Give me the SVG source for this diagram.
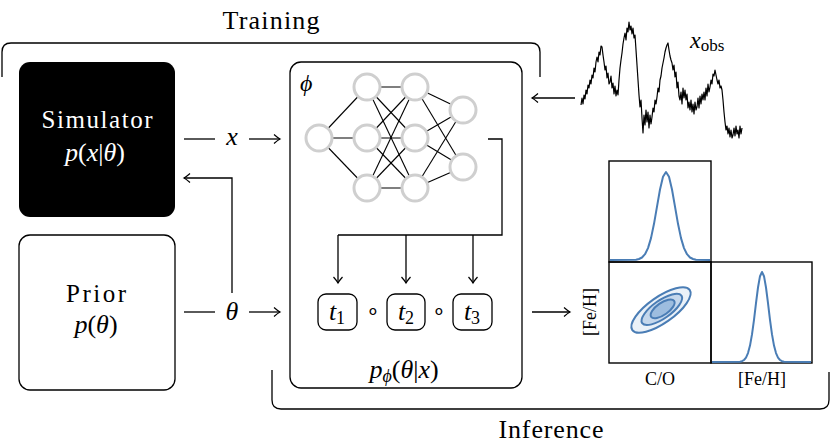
<svg xmlns="http://www.w3.org/2000/svg" width="831" height="447" viewBox="0 0 831 447">
<defs>
<marker id="ah" viewBox="-8 -6 10 12" markerWidth="10" markerHeight="12" refX="0" refY="0" orient="auto" markerUnits="userSpaceOnUse">
<path d="M-6,-4.5 Q-2,-1 0,0 Q-2,1 -6,4.5" fill="none" stroke="#000" stroke-width="1.2"/>
</marker>
</defs>

<g id="training-label"><text font-family="Liberation Serif" x="271" y="29" font-size="26" text-anchor="middle" textLength="97" lengthAdjust="spacing">Training</text></g>
<g id="inference-label"><text font-family="Liberation Serif" x="551" y="438" font-size="26" text-anchor="middle" textLength="105" lengthAdjust="spacing">Inference</text></g>

<g id="simulator">
<rect x="19" y="62" width="156" height="155" rx="11" fill="#000"/>
<text font-family="Liberation Serif" x="97" y="128" font-size="25" text-anchor="middle" fill="#fff" textLength="111" lengthAdjust="spacing">Simulator</text>
<text font-family="Liberation Serif" x="95" y="161" font-size="26" text-anchor="middle" fill="#fff"><tspan font-style="italic">p</tspan>(<tspan font-style="italic">x</tspan>|<tspan font-style="italic">&#952;</tspan>)</text>
</g>

<g id="prior">
<rect x="19" y="235" width="156" height="155" rx="11" fill="#fff" stroke="#000" stroke-width="1.3"/>
<text font-family="Liberation Serif" x="96" y="302" font-size="25" text-anchor="middle" textLength="60" lengthAdjust="spacing">Prior</text>
<text font-family="Liberation Serif" x="96" y="333" font-size="26" text-anchor="middle"><tspan font-style="italic">p</tspan>(<tspan font-style="italic">&#952;</tspan>)</text>
</g>

<g id="flow">
<rect x="290" y="62" width="232" height="326" rx="11" fill="#fff" stroke="#000" stroke-width="1.3"/>
<text font-family="Liberation Serif" x="300" y="91" font-size="24" font-style="italic">&#981;</text>
<g id="nn-edges" stroke="#000" stroke-width="1.1">
<line x1="319" y1="138" x2="367" y2="87"/>
<line x1="319" y1="138" x2="367" y2="138"/>
<line x1="319" y1="138" x2="367" y2="188"/>
<line x1="367" y1="87" x2="415" y2="87"/>
<line x1="367" y1="87" x2="415" y2="138"/>
<line x1="367" y1="87" x2="415" y2="188"/>
<line x1="367" y1="138" x2="415" y2="87"/>
<line x1="367" y1="138" x2="415" y2="138"/>
<line x1="367" y1="138" x2="415" y2="188"/>
<line x1="367" y1="188" x2="415" y2="87"/>
<line x1="367" y1="188" x2="415" y2="138"/>
<line x1="367" y1="188" x2="415" y2="188"/>
<line x1="415" y1="87" x2="463" y2="110"/>
<line x1="415" y1="87" x2="463" y2="167"/>
<line x1="415" y1="138" x2="463" y2="110"/>
<line x1="415" y1="138" x2="463" y2="167"/>
<line x1="415" y1="188" x2="463" y2="110"/>
<line x1="415" y1="188" x2="463" y2="167"/>
</g>
<g id="nn-nodes" fill="#fff" stroke="#cfcfcf" stroke-width="3">
<circle cx="319" cy="138" r="13"/>
<circle cx="367" cy="87" r="13"/>
<circle cx="367" cy="138" r="13"/>
<circle cx="367" cy="188" r="13"/>
<circle cx="415" cy="87" r="13"/>
<circle cx="415" cy="138" r="13"/>
<circle cx="415" cy="188" r="13"/>
<circle cx="463" cy="110" r="13"/>
<circle cx="463" cy="167" r="13"/>
</g>
<g id="t1"><rect x="318" y="294" width="39" height="36" rx="8" fill="#fff" stroke="#000" stroke-width="1.3"/><text font-family="Liberation Serif" x="337" y="320" font-size="26" text-anchor="middle"><tspan font-style="italic">t</tspan><tspan font-size="18" dy="4">1</tspan></text></g>
<text font-family="Liberation Serif" x="373" y="318" font-size="22" text-anchor="middle">&#8728;</text>
<g id="t2"><rect x="387" y="294" width="38" height="36" rx="8" fill="#fff" stroke="#000" stroke-width="1.3"/><text font-family="Liberation Serif" x="406" y="320" font-size="26" text-anchor="middle"><tspan font-style="italic">t</tspan><tspan font-size="18" dy="4">2</tspan></text></g>
<text font-family="Liberation Serif" x="439" y="318" font-size="22" text-anchor="middle">&#8728;</text>
<g id="t3"><rect x="453" y="294" width="39" height="36" rx="8" fill="#fff" stroke="#000" stroke-width="1.3"/><text font-family="Liberation Serif" x="472" y="320" font-size="26" text-anchor="middle"><tspan font-style="italic">t</tspan><tspan font-size="18" dy="4">3</tspan></text></g>
<text font-family="Liberation Serif" x="404" y="378" font-size="26" text-anchor="middle"><tspan font-style="italic">p</tspan><tspan font-style="italic" font-size="18" dy="4">&#981;</tspan><tspan dy="-4">(</tspan><tspan font-style="italic">&#952;</tspan>|<tspan font-style="italic">x</tspan>)</text>
</g>

<g id="observation">
<polyline fill="none" stroke="#000" stroke-width="1.2" stroke-linejoin="round" points="581,105 582,98 583,104 584,95 585,99 586,90 587,94 588,85 589,88 590,80 591,84 592,75 593,78 594,68 595,72 596,62 597,57 598,62 599,52 600,55 601,46 602,47 603,55 604,62 605,70 606,66 607,78 608,73 609,84 610,82 611,76 612,88 613,83 614,94 615,86 616,96 617,90 618,95 619,80 620,68 621,60 622,53 623,44 624,38 625,33 626,40 627,28 628,32 629,22 630,30 631,26 632,34 633,28 634,38 635,35 636,50 637,65 638,80 639,95 640,107 641,100 642,118 643,133 644,115 645,125 646,110 647,122 648,112 649,128 650,115 651,124 652,117 653,108 654,112 655,100 656,104 657,97 658,88 659,92 660,80 661,76 662,68 663,63 664,58 665,52 666,48 667,45 668,43 669,50 670,56 671,60 672,63 673,70 674,65 675,77 676,72 677,88 678,82 679,96 680,100 681,92 682,104 683,88 684,98 685,90 686,100 687,94 688,108 689,102 690,110 691,100 692,112 693,104 694,114 695,102 696,110 697,107 698,98 699,108 700,96 701,104 702,94 703,100 704,92 705,100 706,88 707,96 708,84 709,92 710,87 711,80 712,84 713,74 714,76 715,70 716,75 717,80 718,84 719,80 720,88 721,86 722,90 723,100 724,112 725,122 726,130 727,126 728,134 729,128 730,137 731,130 732,138 733,135 734,128 735,136 736,126 737,134 738,130 739,138 740,126 741,134 742,128"/>
<text font-family="Liberation Serif" x="690" y="48" font-size="24"><tspan font-style="italic">x</tspan><tspan font-size="17" dy="3">obs</tspan></text>
</g>

<g id="posterior">
<g fill="none" stroke="#000" stroke-width="1.4">
<rect x="609" y="161" width="102" height="101"/>
<rect x="609" y="262" width="102" height="101"/>
<rect x="711" y="262" width="101" height="101"/>
</g>
<g fill="none" stroke="#4a7db5" stroke-width="2" stroke-linejoin="round">
<polyline points="610,260 636,259.7 639,259 642,257.5 645,254.2 648,248.1 651,238.1 654,223.8 657,206.6 660,189.5 663,176.8 666,172 669,176.8 672,189.5 675,206.6 678,223.8 681,238.1 684,248.1 687,254.2 690,257.5 693,259 696,259.7 710,260"/>
<polyline points="712,362 740,361.7 742,361.2 744,360 746,357.7 748,353.1 750,345.6 752,334.4 754,319.8 756,303.2 758,287.5 760,276.2 762,272 764,276.2 766,287.5 768,303.2 770,319.8 772,334.4 774,345.6 776,353.1 778,357.7 780,360 782,361.2 784,361.7 811,362"/>
</g>
<g transform="translate(661,310) rotate(-35)" stroke="#4a7db5" stroke-width="2">
<ellipse rx="35" ry="13" fill="#eaf1f8"/>
<ellipse cx="1" rx="24" ry="9" fill="#c4d7ec"/>
<ellipse cx="2" rx="14" ry="6" fill="#9dbddf"/>
</g>
<text font-family="Liberation Serif" x="660" y="385" font-size="18" text-anchor="middle">C/O</text>
<text font-family="Liberation Serif" x="762" y="385" font-size="18" text-anchor="middle">[Fe/H]</text>
<text font-family="Liberation Serif" transform="translate(596,312) rotate(-90)" font-size="18" text-anchor="middle">[Fe/H]</text>
</g>

<g id="connectors" fill="none" stroke="#000" stroke-width="1.3">
<path d="M2,77 L2,52 Q2,43 11,43 L531,43 Q540,43 540,52 L540,77"/>
<path d="M272,370 L272,400 Q272,409 281,409 L820,409 Q829,409 829,400 L829,372"/>
<line x1="184" y1="139" x2="215" y2="139"/>
<line x1="249" y1="139" x2="280" y2="139" marker-end="url(#ah)"/>
<line x1="184" y1="312" x2="215" y2="312"/>
<line x1="249" y1="312" x2="280" y2="312" marker-end="url(#ah)"/>
<polyline points="232,293 232,178 184,178" marker-end="url(#ah)"/>
<polyline points="488,139 502,139 502,235 338,235"/>
<line x1="338" y1="235" x2="338" y2="283" marker-end="url(#ah)"/>
<line x1="406" y1="235" x2="406" y2="283" marker-end="url(#ah)"/>
<line x1="473" y1="235" x2="473" y2="283" marker-end="url(#ah)"/>
<line x1="532" y1="312" x2="570" y2="312" marker-end="url(#ah)"/>
<line x1="575" y1="98" x2="532" y2="98" marker-end="url(#ah)"/>
</g>
<g id="edge-labels">
<text font-family="Liberation Serif" x="232" y="145" font-size="26" text-anchor="middle" font-style="italic">x</text>
<text font-family="Liberation Serif" x="232" y="320" font-size="26" text-anchor="middle" font-style="italic">&#952;</text>
</g>
</svg>
